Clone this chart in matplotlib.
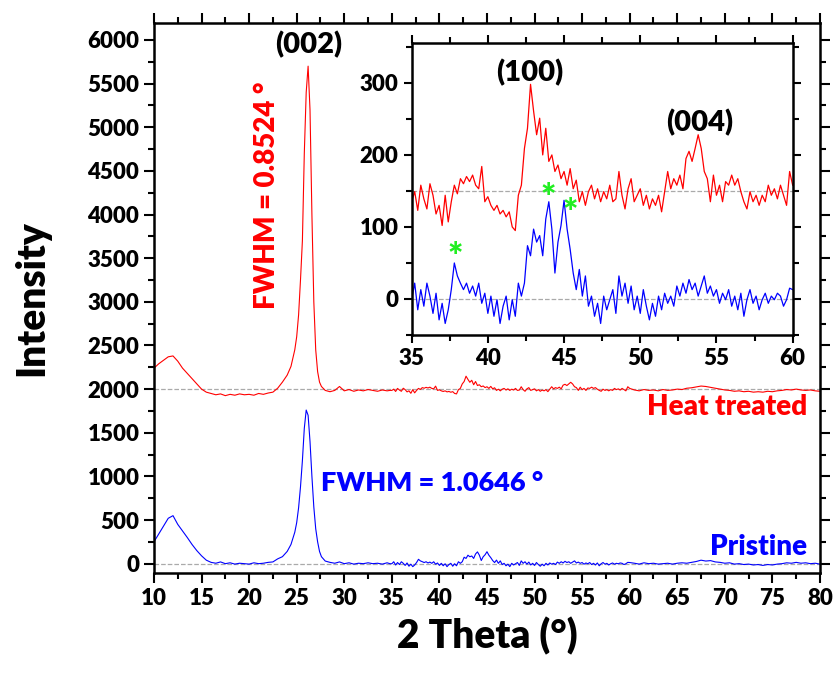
# XRD patterns: pristine vs heat treated, with zoomed inset (35-60 deg)

import numpy as np
import matplotlib.pyplot as plt
from matplotlib.ticker import MultipleLocator

plt.rcParams['font.family'] = ['Lato', 'DejaVu Sans']
plt.rcParams['font.weight'] = 'heavy'
W = 'heavy'

# ---- inset data (35-60 deg, step 0.2) ----
inset_x = [round(35 + 0.2 * i, 1) for i in range(126)]
inset_red = [135, 149, 123, 158, 139, 125, 160, 144, 118, 130,
             102, 144, 107, 135, 158, 146, 167, 160, 170, 163,
             172, 158, 153, 184, 135, 142, 130, 123, 130, 118,
             123, 114, 121, 100, 95, 144, 158, 209, 237, 298,
             261, 228, 251, 200, 237, 191, 200, 177, 186, 167,
             177, 158, 181, 153, 165, 135, 149, 130, 149, 158,
             139, 153, 135, 149, 139, 158, 135, 139, 177, 144,
             125, 153, 167, 135, 144, 153, 130, 144, 125, 139,
             130, 144, 121, 149, 177, 153, 167, 158, 172, 153,
             195, 205, 191, 209, 228, 209, 177, 167, 135, 172,
             144, 158, 135, 163, 158, 172, 158, 167, 149, 135,
             125, 149, 135, 144, 130, 144, 135, 158, 144, 153,
             139, 158, 144, 130, 177, 158]
inset_blue = [-1, 22, -15, 13, -10, 22, 4, -20, 8, -29,
              -6, -34, -15, 13, 50, 32, 22, 13, 22, 8,
              18, 4, 22, -6, 8, -20, 4, -24, -1, -34,
              -10, 4, -29, -1, -24, 22, 4, 22, 74, 60,
              97, 79, 88, 60, 111, 135, 97, 36, 79, 102,
              137, 97, 69, 36, 13, 41, 4, 32, -10, 4,
              -24, -6, -34, 4, -15, -1, 13, -20, 32, 4,
              22, -6, 18, -15, 4, -20, 13, -10, -29, -6,
              -24, 4, -15, 8, -6, 4, -10, 18, 4, 22,
              8, 27, 13, 22, 4, 18, 32, 8, 18, 4,
              13, -6, 8, -1, 13, -10, 4, -15, 8, -24,
              -1, 13, -6, 4, -15, -1, 8, -6, 4, -1,
              8, 4, -10, -1, 15, 13]

# ---- main pattern outside the inset range ----
lo_x = [10.0, 10.5, 11.0, 11.5, 12.0, 12.5, 13.0, 13.5, 14.0, 14.5,
        15.0, 15.5, 16.0, 16.5, 17.0, 17.5, 18.0, 18.5, 19.0, 19.5,
        20.0, 20.5, 21.0, 21.5, 22.0, 22.5, 23.0, 23.5, 24.0, 24.4,
        24.8, 25.0, 25.2, 25.4, 25.6, 25.8, 26.0, 26.2, 26.4, 26.6,
        26.8, 27.0, 27.2, 27.4, 27.6, 28.0, 28.5, 29.0, 29.5, 30.0,
        30.5, 31.0, 31.5, 32.0, 32.5, 33.0, 33.5, 34.0, 34.5, 34.8]
lo_red = [2240, 2290, 2330, 2370, 2380, 2320, 2240, 2180, 2120, 2060,
          2000, 1965, 1950, 1935, 1945, 1925, 1940, 1930, 1945, 1935,
          1940, 1930, 1950, 1940, 1955, 1965, 2010, 2080, 2160, 2260,
          2450, 2600, 2850, 3250, 3700, 4700, 5400, 5700, 5200, 4000,
          3000, 2450, 2200, 2080, 2030, 1985, 1970, 1985, 2030, 1980,
          1995, 1975, 1990, 1980, 1995, 1985, 1975, 1990, 1980, 1985]
lo_blue = [250, 340, 430, 520, 550, 450, 375, 300, 220, 150,
           90, 40, 15, 5, 20, 0, 10, -5, 5, 0,
           -5, 10, 0, 5, 15, 20, 55, 80, 140, 220,
           360, 470, 640, 880, 1180, 1550, 1760, 1700, 1400, 1000,
           650, 400, 250, 140, 80, 30, 15, 5, 20, 0,
           10, -5, 5, 0, 10, 0, 5, -5, 10, 0]

hi_x = [60.5, 61.0, 61.5, 62.0, 62.5, 63.0, 63.5, 64.0, 64.5, 65.0,
        65.5, 66.0, 66.5, 67.0, 67.5, 68.0, 68.5, 69.0, 69.5, 70.0,
        70.5, 71.0, 71.5, 72.0, 72.5, 73.0, 73.5, 74.0, 74.5, 75.0,
        75.5, 76.0, 76.5, 77.0, 77.5, 78.0, 78.5, 79.0, 79.5, 80.0]
hi_red = [1990, 1980, 1995, 1985, 1990, 1980, 1995, 1985, 1990, 2000,
          1995, 2010, 2015, 2025, 2035, 2030, 2020, 2010, 2000, 1990,
          1985, 1975, 1980, 1970, 1975, 1965, 1970, 1965, 1975, 1970,
          1980, 1985, 1995, 1990, 2000, 1990, 1985, 1990, 1980, 1975]
hi_blue = [5, -5, 10, 0, 5, -5, 0, 5, -5, 5,
           10, 5, 15, 25, 40, 30, 35, 20, 15, 5,
           10, -5, 0, -10, -5, -15, -10, -20, -10, -15,
           -5, 0, 10, 5, 15, 5, 10, 0, 5, -5]

red_offset = 1850  # inset red is shown shifted down

main_x = lo_x + inset_x + hi_x
main_red = lo_red + [v + red_offset for v in inset_red] + hi_red
main_blue = lo_blue + inset_blue + hi_blue

RED = '#ff0000'
BLUE = '#0000ff'

fig = plt.figure(figsize=(8.35, 6.75), dpi=100)
ax = fig.add_axes([0.1844, 0.1511, 0.7976, 0.8153])

ax.axhline(0, color='#aaaaaa', ls='--', lw=0.9, zorder=1)
ax.axhline(2000, color='#aaaaaa', ls='--', lw=0.9, zorder=1)
ax.plot(main_x, main_red, color=RED, lw=0.8, zorder=2)
ax.plot(main_x, main_blue, color=BLUE, lw=0.8, zorder=2)

ax.set_xlim(10, 80)
ax.set_ylim(-107, 6198)
ax.xaxis.set_major_locator(MultipleLocator(5))
ax.xaxis.set_minor_locator(MultipleLocator(2.5))
ax.yaxis.set_major_locator(MultipleLocator(500))
ax.yaxis.set_minor_locator(MultipleLocator(250))
ax.tick_params(which='both', direction='out', top=True, right=True, width=1.5)
ax.tick_params(which='major', length=7, labelsize=16)
ax.tick_params(which='minor', length=4)
for s in ax.spines.values():
    s.set_linewidth(1.8)

ax.set_xlabel('2 Theta (°)', fontsize=28, fontweight=W, labelpad=6)
ax.set_ylabel('Intensity', fontsize=28, fontweight=W, labelpad=27)

ax.text(26.3, 5943, '(002)', fontsize=21, fontweight=W, ha='center', va='center')
ax.text(21.9, 4223, 'FWHM = 0.8524 °', color=RED, fontsize=20, fontweight=W,
        rotation=90, ha='center', va='center')
ax.text(27.6, 924, 'FWHM = 1.0646 °', color=BLUE, fontsize=19.5, fontweight=W,
        ha='left', va='center')
ax.text(78.7, 1796, 'Heat treated', color=RED, fontsize=20, fontweight=W,
        ha='right', va='center')
ax.text(78.7, 191, 'Pristine', color=BLUE, fontsize=20, fontweight=W,
        ha='right', va='center')

# ---- inset ----
ins = fig.add_axes([0.493, 0.5037, 0.4563, 0.4322])
ins.axhline(0, color='#aaaaaa', ls='--', lw=0.9, zorder=1)
ins.axhline(150, color='#aaaaaa', ls='--', lw=0.9, zorder=1)
ins.plot(inset_x, inset_red, color=RED, lw=0.9, zorder=2)
ins.plot(inset_x, inset_blue, color=BLUE, lw=0.9, zorder=2)
ins.set_xlim(35, 60)
ins.set_ylim(-50, 355)
ins.xaxis.set_major_locator(MultipleLocator(5))
ins.xaxis.set_minor_locator(MultipleLocator(2.5))
ins.yaxis.set_major_locator(MultipleLocator(100))
ins.yaxis.set_minor_locator(MultipleLocator(50))
ins.tick_params(which='both', direction='out', top=True, right=True, width=1.5)
ins.tick_params(which='major', length=6, labelsize=16)
ins.tick_params(which='minor', length=4)
for s in ins.spines.values():
    s.set_linewidth(1.8)

ins.text(42.76, 315, '(100)', fontsize=21, fontweight=W, ha='center', va='center')
ins.text(53.9, 245, '(004)', fontsize=21, fontweight=W, ha='center', va='center')
for sx, sy in [(37.84, 58), (43.95, 139), (45.4, 119)]:
    ins.text(sx, sy, '*', color='#22ee22', fontsize=26, fontweight=W,
             ha='center', va='center')

fig.savefig('out.png', dpi=100)
